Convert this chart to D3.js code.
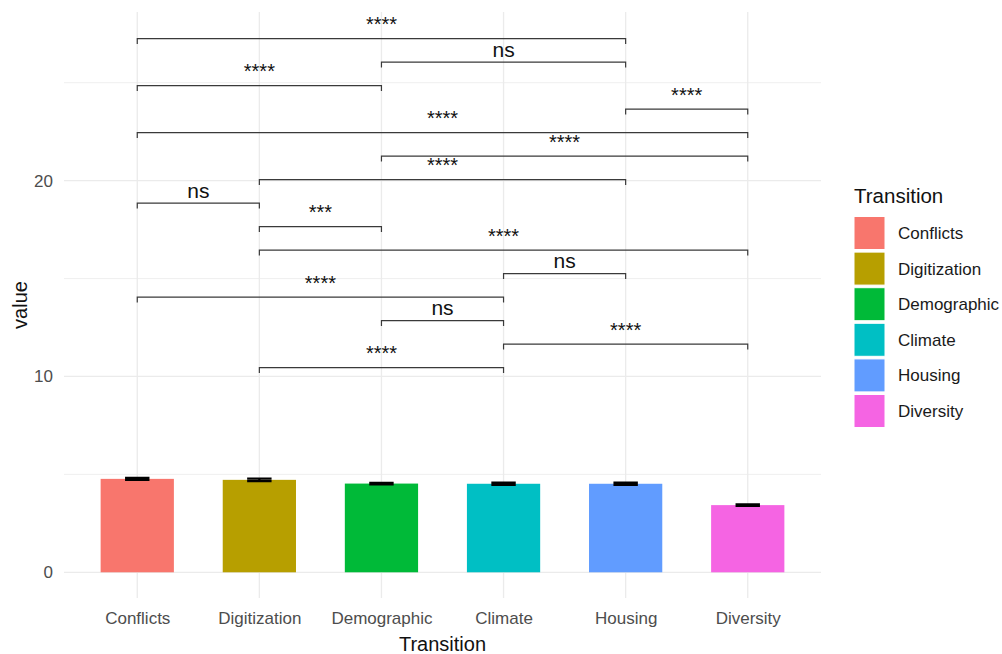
<!DOCTYPE html>
<html>
<head>
<meta charset="utf-8">
<script src="https://cdn.jsdelivr.net/npm/d3@7"></script>
<style>
  html, body { margin: 0; padding: 0; background: #ffffff; }
  svg { display: block; font-family: "Liberation Sans", Arial, sans-serif; }
</style>
</head>
<body>
<svg id="chart" width="1002" height="654"></svg>
<script>
// Mean score per transition with its standard error
const categories = ["Conflicts", "Digitization", "Demographic", "Climate", "Housing", "Diversity"];
const means = [4.77, 4.72, 4.53, 4.52, 4.52, 3.43];
const errors = [0.05, 0.06, 0.04, 0.06, 0.06, 0.04];
const colors = ["#F8766D", "#B79F00", "#00BA38", "#00BFC4", "#619CFF", "#F564E3"];

// Pairwise comparisons: groups, significance label and bracket height
const groupA = ["Digitization", "Climate", "Demographic", "Conflicts", "Climate", "Digitization", "Digitization", "Conflicts", "Digitization", "Demographic", "Conflicts", "Housing", "Conflicts", "Demographic", "Conflicts"];
const groupB = ["Climate", "Diversity", "Climate", "Climate", "Housing", "Diversity", "Demographic", "Digitization", "Housing", "Diversity", "Diversity", "Diversity", "Demographic", "Housing", "Housing"];
const signif = ["****", "****", "ns", "****", "ns", "****", "***", "ns", "****", "****", "****", "****", "****", "ns", "****"];
const bracketY = [10.45, 11.65, 12.85, 14.05, 15.25, 16.45, 17.65, 18.85, 20.05, 21.25, 22.45, 23.65, 24.85, 26.05, 27.25];

const yMajor = [0, 10, 20];
const yMinor = [5, 15, 25];

const svg = d3.select("#chart");
const panel = { left: 64, right: 821, top: 12, bottom: 598 };

const x = d3.scalePoint().domain(categories).range([panel.left, panel.right]).padding(0.6);
const y = d3.scaleLinear().domain([-1.313, 28.61]).range([panel.bottom, panel.top]);
const step = x.step();

// grid
const grid = svg.append("g");
grid.selectAll("line.minor").data(yMinor).join("line")
  .attr("x1", panel.left).attr("x2", panel.right)
  .attr("y1", d => y(d)).attr("y2", d => y(d))
  .attr("stroke", "#EBEBEB").attr("stroke-width", 0.8);
grid.selectAll("line.major").data(yMajor).join("line")
  .attr("x1", panel.left).attr("x2", panel.right)
  .attr("y1", d => y(d)).attr("y2", d => y(d))
  .attr("stroke", "#EBEBEB").attr("stroke-width", 1.3);
grid.selectAll("line.vert").data(categories).join("line")
  .attr("x1", d => x(d)).attr("x2", d => x(d))
  .attr("y1", panel.top).attr("y2", panel.bottom)
  .attr("stroke", "#EBEBEB").attr("stroke-width", 1.3);

// bars
const barW = step * 0.6;
svg.append("g").selectAll("rect").data(categories).join("rect")
  .attr("x", d => x(d) - barW / 2)
  .attr("width", barW)
  .attr("y", (d, i) => y(means[i]))
  .attr("height", (d, i) => y(0) - y(means[i]))
  .attr("fill", (d, i) => colors[i]);

// error bars
const ebW = step * 0.2;
svg.append("g").selectAll("path").data(categories).join("path")
  .attr("d", (d, i) => {
    const cx = x(d), hi = y(means[i] + errors[i]), lo = y(means[i] - errors[i]);
    return `M${cx - ebW / 2},${hi}H${cx + ebW / 2}M${cx},${hi}V${lo}M${cx - ebW / 2},${lo}H${cx + ebW / 2}`;
  })
  .attr("fill", "none").attr("stroke", "#000").attr("stroke-width", 2.2);

// significance brackets
const tick = 0.27;
const br = svg.append("g");
bracketY.forEach((v, i) => {
  const x1 = x(groupA[i]), x2 = x(groupB[i]);
  const yl = y(v), yt = y(v - tick);
  const isStars = signif[i] !== "ns";
  br.append("path")
    .attr("d", `M${x1},${yt}V${yl}H${x2}V${yt}`)
    .attr("fill", "none").attr("stroke", "#3a3a3a").attr("stroke-width", 1.2);
  br.append("text")
    .attr("x", (x1 + x2) / 2).attr("y", yl - (isStars ? 7.5 : 5.5))
    .attr("text-anchor", "middle")
    .attr("font-size", isStars ? 20 : 21).attr("fill", "#111")
    .text(signif[i]);
});

// axes text
const yAxis = d3.axisLeft(y).tickValues(yMajor).tickSize(0).tickPadding(11);
const gy = svg.append("g").attr("transform", `translate(${panel.left},0)`).call(yAxis);
gy.select(".domain").remove();
gy.selectAll("text").attr("font-size", 17).attr("fill", "#4D4D4D").attr("font-family", "Liberation Sans, Arial, sans-serif");

const xAxis = d3.axisBottom(x).tickSize(0).tickPadding(14);
const gx = svg.append("g").attr("transform", `translate(0,${panel.bottom})`).call(xAxis);
gx.select(".domain").remove();
gx.selectAll("text").attr("font-size", 17).attr("fill", "#4D4D4D").attr("font-family", "Liberation Sans, Arial, sans-serif");

svg.append("text")
  .attr("x", (panel.left + panel.right) / 2).attr("y", 651)
  .attr("text-anchor", "middle").attr("font-size", 20).attr("fill", "#111")
  .text("Transition");

svg.append("text")
  .attr("transform", `translate(27,${(panel.top + panel.bottom) / 2}) rotate(-90)`)
  .attr("text-anchor", "middle").attr("font-size", 20).attr("fill", "#111")
  .text("value");

// legend
const lg = svg.append("g").attr("transform", "translate(854,0)");
lg.append("text").attr("x", 0).attr("y", 203).attr("font-size", 20.5).attr("fill", "#111").text("Transition");
const keyPitch = 35.6, keyTop = 216.5, keySize = 33;
categories.forEach((c, i) => {
  const ky = keyTop + i * keyPitch;
  lg.append("rect").attr("x", 0).attr("y", ky).attr("width", 31).attr("height", keySize)
    .attr("fill", colors[i]).attr("stroke", "#ffffff").attr("stroke-width", 1);
  lg.append("text").attr("x", 44).attr("y", ky + keySize / 2).attr("dy", "0.35em")
    .attr("font-size", 17).attr("fill", "#1a1a1a").text(c);
});
</script>
</body>
</html>
